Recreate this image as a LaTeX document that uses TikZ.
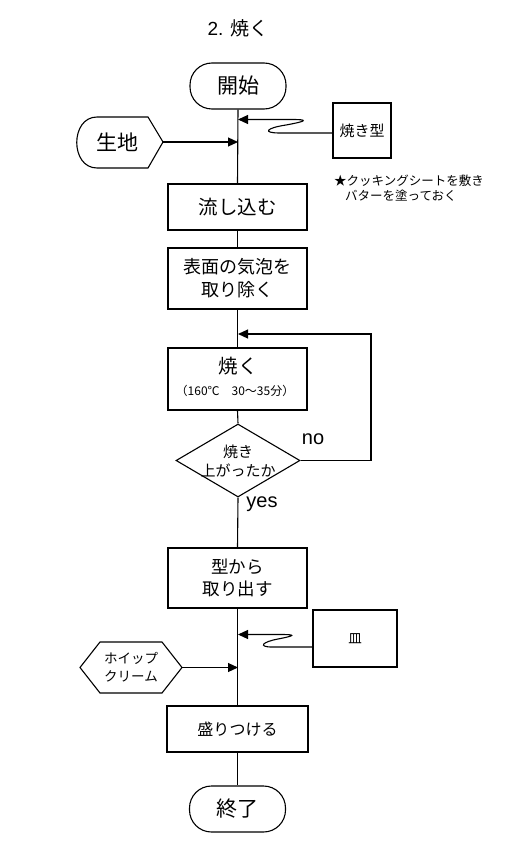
\documentclass[tikz,border=0pt]{standalone}
\usepackage{fontspec}
\setmainfont{Noto Sans CJK JP}
\newfontfamily\lat{Liberation Sans}
\usetikzlibrary{arrows.meta,shapes.geometric}
\tikzset{
  ln/.style={line width=1.1pt, draw=black},
  arr/.style={ln, -{Triangle[length=10pt,width=9pt]}},
  term/.style={ln, rounded corners=22pt, minimum width=96pt, minimum height=46pt, inner sep=0pt, font=\fontsize{21}{24}\selectfont},
  proc/.style={ln, minimum width=139pt, inner sep=0pt, align=center},
  side/.style={ln, inner sep=0pt, align=center},
  txt/.style={inner sep=0pt, align=center},
}
\begin{document}
\begin{tikzpicture}[x=1pt,y=-1pt]
\useasboundingbox (0,0) rectangle (504,864);
\node[txt, font=\fontsize{19}{22}\selectfont] (title) at (238,28) {{\lat 2. }焼く};
\node[term] (start) at (238,86) {開始};
% side: 焼き型
\node[side, minimum width=58pt, minimum height=55pt, font=\fontsize{15}{17}\selectfont] (kata) at (362,130.5) {焼き型};
\node[txt, anchor=west, font=\fontsize{12.5}{15.5}\selectfont, align=left] (note) at (334,188) {★クッキングシートを敷き\\\hspace{11pt}バターを塗っておく};
% 生地
\node[txt, font=\fontsize{21}{24}\selectfont] (kiji) at (117,142) {生地};
\draw[ln] (148,117) -- (163,142) -- (148,168) -- (97,168) .. controls (70,168) and (70,117) .. (97,117) -- cycle;
\coordinate (kijiR) at (163,142);
% process boxes
\node[proc, minimum height=46pt, font=\fontsize{19.5}{22}\selectfont] (nagashi) at (237.5,207) {流し込む};
\node[proc, minimum height=61pt, font=\fontsize{18}{23}\selectfont] (awa) at (237.5,278.5) {表面の気泡を\\取り除く};
\node[proc, minimum height=62pt] (yaku) at (237.5,379) {};
\node[txt, font=\fontsize{19.5}{22}\selectfont] (yakuT) at (238,366) {焼く};
\node[txt, font=\fontsize{12}{14}\selectfont] (yakuS) at (235,391) {（160℃　30〜35分）};
\node[ln, shape=diamond, aspect=1.7, minimum width=124pt, minimum height=73pt, inner sep=0pt] (dia) at (238,460.5) {};
\node[txt, font=\fontsize{15}{19}\selectfont] (diaT) at (238,461) {焼き\\上がったか};
\node[txt, font=\lat\fontsize{20}{22}\selectfont] (no) at (313,439) {no};
\node[txt, font=\lat\fontsize{20}{22}\selectfont] (yes) at (262,504) {yes};
\node[proc, minimum height=60pt, font=\fontsize{17.5}{22}\selectfont] (dasu) at (237.5,578) {型から\\取り出す};
\node[side, minimum width=84pt, minimum height=57pt, font=\fontsize{13.5}{15}\selectfont] (sara) at (355,638.5) {皿};
% ホイップクリーム
\node[txt, font=\fontsize{13.5}{18}\selectfont] (cream) at (131,667.5) {ホイップ\\クリーム};
\draw[ln] (100,642) -- (162,642) -- (182,667.5) -- (162,693) -- (100,693) -- (80,667.5) -- cycle;
\coordinate (creamR) at (182,667.5);
\node[proc, minimum width=141pt, minimum height=46pt, font=\fontsize{16}{18}\selectfont] (mori) at (237.5,729) {盛りつける};
\node[term] (end) at (237.5,809) {終了};
% joints on main line
\coordinate (j1) at (238,119.5);
\coordinate (j2) at (238,142);
\coordinate (j3) at (238,334);
\coordinate (j4) at (238,634.5);
\coordinate (j5) at (238,667.5);
% main flow
\draw[ln] (start.south) -- (nagashi.north);
\draw[ln] (nagashi.south) -- (awa.north);
\draw[ln] (awa.south) -- (yaku.north);
\draw[ln] (yaku.south) -- (dia.north);
\draw[ln] (dia.south) -- (dasu.north);
\draw[ln] (dasu.south) -- (mori.north);
\draw[ln] (mori.south) -- (end.north);
% side inputs
\draw[arr] (kijiR) -- (j2);
\draw[arr] (creamR) -- (j5);
\draw[arr] (kata.west |- 0,133) -- (280,133) .. controls (262,133) and (266,128) .. (286,125) .. controls (308,121) and (308,119.5) .. (292,119.5) -- (j1);
\draw[arr] (sara.west |- 0,647) -- (272,647) .. controls (258,647) and (262,642) .. (278,639) .. controls (296,635.5) and (296,634.5) .. (280,634.5) -- (j4);
% loop
\draw[arr] (dia.east) -- (371,460.5) -- (371,334) -- (j3);
\end{tikzpicture}
\end{document}
